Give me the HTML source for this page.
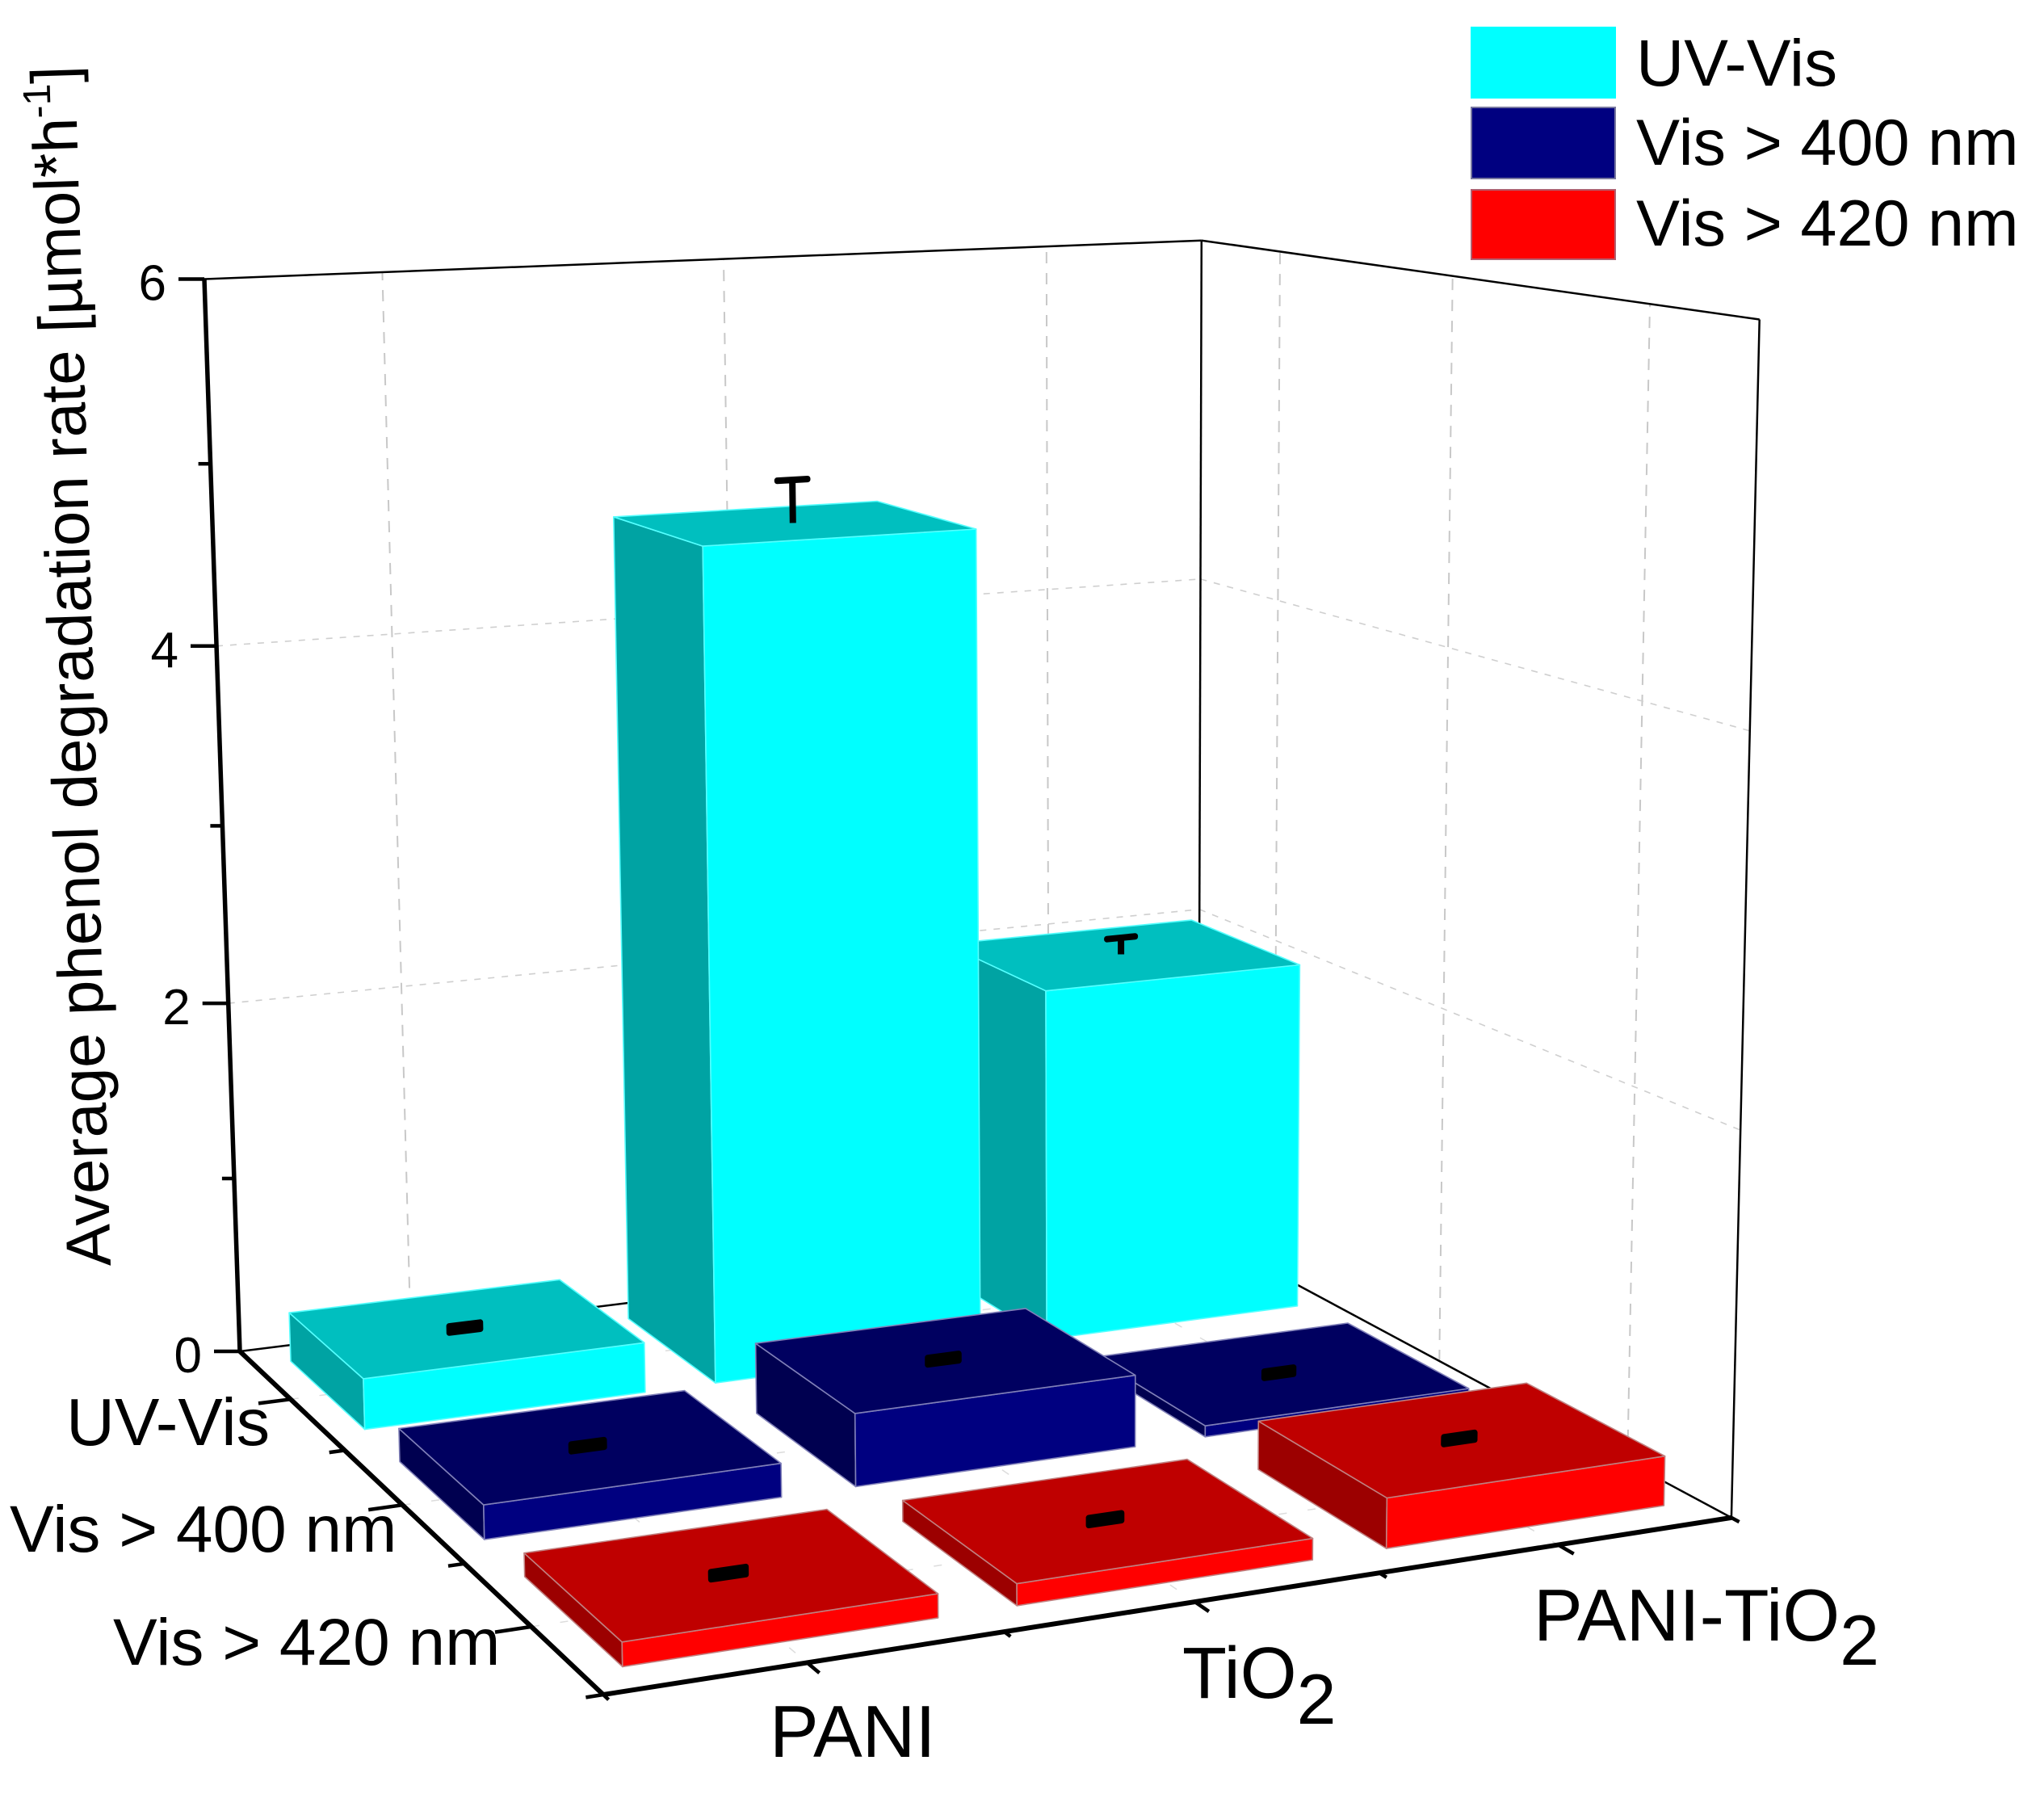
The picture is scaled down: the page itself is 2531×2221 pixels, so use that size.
<!DOCTYPE html>
<html>
<head>
<meta charset="utf-8">
<title>Average phenol degradation rate</title>
<style>
html,body{margin:0;padding:0;background:#fff;}
svg{display:block;}
text{font-family:"Liberation Sans",sans-serif;fill:#000;}
</style>
</head>
<body>
<svg id="chart" xmlns="http://www.w3.org/2000/svg" width="2531" height="2221" viewBox="0 0 2531 2221">
  <rect x="0" y="0" width="2531" height="2221" fill="#fff"/>
  <g id="grid"></g>
  <g id="frame"></g>
  <g id="bars"></g>
  <g id="axes"></g>
  <g id="ylabels"></g>

  <text transform="translate(137,1567) rotate(-91.7)" font-size="78">Average phenol degradation rate [µmol*h<tspan font-size="48" dy="-32">-1</tspan><tspan dy="32">]</tspan></text>

  <g font-size="82">
    <text x="82" y="1789" font-size="83">UV-Vis</text>
    <text x="12" y="1921">Vis &gt; 400 nm</text>
    <text x="140" y="2061">Vis &gt; 420 nm</text>
  </g>
  <g font-size="91">
    <text x="953" y="2175">PANI</text>
    <text x="1464" y="2102" font-size="90">TiO<tspan font-size="88" dy="32">2</tspan></text>
    <text x="1899" y="2031">PANI-TiO<tspan font-size="88" dy="30">2</tspan></text>
  </g>

  <g>
    <rect x="1821" y="33" width="180" height="89" fill="#00ffff"/>
    <rect x="1822" y="133" width="178" height="88" fill="#000080" stroke="#77779f" stroke-width="2"/>
    <rect x="1822" y="235" width="178" height="86" fill="#ff0000" stroke="#b06070" stroke-width="2"/>
    <text x="2026" y="106" font-size="82">UV-Vis</text>
    <text x="2026" y="204" font-size="81">Vis &gt; 400 nm</text>
    <text x="2026" y="304" font-size="81">Vis &gt; 420 nm</text>
  </g>
</svg>
<script>
// ----- chart data -----
const productCategories = ['PANI', 'TiO2', 'PANI-TiO2'];
const lightCategories = ['UV-Vis', 'Vis > 400 nm', 'Vis > 420 nm'];
const uvVisValues = [0.28, 4.62, 2.01];
const vis400Values = [0.18, 0.39, 0.06];
const vis420Values = [0.12, 0.11, 0.26];
const uvVisErrors = [0.02, 0.24, 0.10];
const vis400Errors = [0.02, 0.02, 0.02];
const vis420Errors = [0.02, 0.02, 0.02];
const yTickValues = [0, 2, 4, 6];
const yMinorTickValues = [1, 3, 5];
const yTickLabels = ['0', '2', '4', '6'];
const yMax = 6;

const svgNS = 'http://www.w3.org/2000/svg';
const rowValues = [uvVisValues, vis400Values, vis420Values];
const rowErrors = [uvVisErrors, vis400Errors, vis420Errors];
const rowNames = ['uv-vis', 'vis-400', 'vis-420'];
const productNames = ['pani', 'tio2', 'pani-tio2'];
const rowColors = [
  {front:'#00ffff', top:'#00bfbf', left:'#00a3a3', edge:'#55ffff'},
  {front:'#000080', top:'#000060', left:'#000050', edge:'#8080b8'},
  {front:'#ff0000', top:'#bf0000', left:'#9c0000', edge:'#c08080'}
];

// ----- axis functions: perspective mapping from (u, v, value) to the page -----
const G = 0.08324, H = -0.18965;
const PX = -53.9, PY = -1341, PW = -0.039;
function uPos(i) { return (i + 0.5) / productCategories.length; }
function vPos(j) { return (j + 0.5) / lightCategories.length; }
function project(u, v, value) {
  const k = value / yMax;
  const X = 1310.5 * u + 308.3 * v + 297 + PX * k;
  const Y = -21.1 * u + 27.1 * v + 1673 + PY * k;
  const W = G * u + H * v + 1 + PW * k;
  return [X / W, Y / W];
}
function pts(list) {
  return list.map(function (p) { return p[0].toFixed(1) + ',' + p[1].toFixed(1); }).join(' ');
}
function addLine(parent, a, b, stroke, width, name, dash) {
  const el = document.createElementNS(svgNS, 'line');
  
  
  el.setAttribute('x1', a[0].toFixed(1));
  el.setAttribute('y1', a[1].toFixed(1));
  el.setAttribute('x2', b[0].toFixed(1));
  el.setAttribute('y2', b[1].toFixed(1));
  el.setAttribute('stroke', stroke);
  el.setAttribute('stroke-width', width);
  if (dash) el.setAttribute('stroke-dasharray', dash);
  parent.appendChild(el);
  return el;
}
function addPoly(parent, list, fill, stroke, width, name) {
  const el = document.createElementNS(svgNS, 'polygon');
  
  
  el.setAttribute('points', pts(list));
  el.setAttribute('fill', fill);
  el.setAttribute('stroke', stroke);
  el.setAttribute('stroke-width', width);
  el.setAttribute('stroke-linejoin', 'round');
  parent.appendChild(el);
  return el;
}

// ----- gridlines -----
const gridG = document.getElementById('grid');
const gridColor = '#c8c8c8';
const gridDash = '14 12';
const fineDash = '8 9';
const floorDash = '10 26';
[0, 1, 2].forEach(function (i) {
  const u = uPos(i), v = vPos(i);
  addLine(gridG, project(u, 0, 0), project(u, 0, yMax), gridColor, 2, 'back-wall-vertical-gridline', gridDash);
  addLine(gridG, project(1, v, 0), project(1, v, yMax), gridColor, 2, 'side-wall-vertical-gridline', gridDash);
  addLine(gridG, project(u, 0, 0), project(u, 1, 0), '#dcdcdc', 1.5, 'floor-gridline-x', floorDash);
  addLine(gridG, project(0, v, 0), project(1, v, 0), '#dcdcdc', 1.5, 'floor-gridline-z', floorDash);
});
[2, 4].forEach(function (t) {
  addLine(gridG, project(0, 0, t), project(1, 0, t), '#cfcfcf', 1.6, 'back-wall-horizontal-gridline', fineDash);
  addLine(gridG, project(1, 0, t), project(1, 1, t), '#cfcfcf', 1.6, 'side-wall-horizontal-gridline', fineDash);
});

// ----- thin frame -----
const frameG = document.getElementById('frame');
addLine(frameG, project(0, 0, yMax), project(1, 0, yMax), '#000', 2.5, 'frame-top-back');
addLine(frameG, project(1, 0, yMax), project(1, 1, yMax), '#000', 2.5, 'frame-top-side');
addLine(frameG, project(1, 0, 0), project(1, 0, yMax), '#000', 2.5, 'frame-back-corner');
addLine(frameG, project(1, 1, 0), project(1, 1, yMax), '#000', 2.5, 'frame-right-corner');
addLine(frameG, project(0, 0, 0), project(1, 0, 0), '#000', 2.5, 'frame-floor-back');
addLine(frameG, project(1, 0, 0), project(1, 1, 0), '#000', 2.5, 'frame-floor-side');

// ----- bars and error bars (painter order: far row first, right to left) -----
const barsG = document.getElementById('bars');
const hu = 0.1325, hv = 0.1155, capU = 0.015;
rowValues.forEach(function (vals, j) {
  for (let i = vals.length - 1; i >= 0; i--) {
    const value = vals[i], err = rowErrors[j][i], c = rowColors[j];
    const u0 = uPos(i) - hu, u1 = uPos(i) + hu, v0 = vPos(j) - hv, v1 = vPos(j) + hv;
    const barName = 'bar-' + rowNames[j] + '-' + productNames[i];
    const g = document.createElementNS(svgNS, 'g');
    
    
    barsG.appendChild(g);
    addPoly(g, [project(u0, v0, 0), project(u0, v1, 0), project(u0, v1, value), project(u0, v0, value)], c.left, c.edge, 1.6, barName + '-left-face');
    addPoly(g, [project(u0, v1, 0), project(u1, v1, 0), project(u1, v1, value), project(u0, v1, value)], c.front, c.edge, 1.6, barName + '-front-face');
    addPoly(g, [project(u0, v0, value), project(u0, v1, value), project(u1, v1, value), project(u1, v0, value)], c.top, c.edge, 1.6, barName + '-top-face');

    const uc = uPos(i), vc = vPos(j);
    const hasStem = err >= 0.05;
    if (hasStem) {
      addLine(g, project(uc, vc, value), project(uc, vc, value + err), '#000', 8, barName + '-error-stem');
    }
    const capTop = value + err;
    const capBottom = hasStem ? value + err - 0.005 : value - err;
    addPoly(g, [project(uc - capU, vc, capBottom), project(uc + capU, vc, capBottom), project(uc + capU, vc, capTop), project(uc - capU, vc, capTop)], '#000', '#000', 7, barName + '-error-cap');
  }
});

// ----- heavy axes and ticks -----
const axesG = document.getElementById('axes');
addLine(axesG, project(0, 0, 0), project(0, 0, yMax), '#000', 5.5, 'y-axis-line');
addLine(axesG, project(0, 0, 0), project(0, 1, 0), '#000', 6, 'z-axis-line');
addLine(axesG, project(0, 1, 0), project(1, 1, 0), '#000', 6, 'x-axis-line');
yTickValues.forEach(function (t) {
  const p = project(0, 0, t);
  addLine(axesG, p, [p[0] - 32, p[1]], '#000', 4.5, 'y-major-tick');
});
yMinorTickValues.forEach(function (t) {
  const p = project(0, 0, t);
  addLine(axesG, p, [p[0] - 15, p[1]], '#000', 4.5, 'y-minor-tick');
});
[1, 2, 3, 4, 5, 6].forEach(function (n) {
  const v = n / 6, p = project(0, v, 0), major = n % 2 === 1;
  addLine(axesG, p, project(major ? -0.03 : -0.014, v, 0), '#000', 4.5, major ? 'z-major-tick' : 'z-minor-tick');
});
[0, 1, 2, 3, 4, 5, 6].forEach(function (n) {
  const u = n / 6, p = project(u, 1, 0), major = n % 2 === 1;
  addLine(axesG, p, project(u, major ? 1.025 : 1.012, 0), '#000', 4.5, major ? 'x-major-tick' : 'x-minor-tick');
});

// ----- y tick labels -----
const yLabelG = document.getElementById('ylabels');
yTickValues.forEach(function (t, k) {
  const p = project(0, 0, t);
  const el = document.createElementNS(svgNS, 'text');
  
  
  el.setAttribute('x', (p[0] - 47).toFixed(1));
  el.setAttribute('y', (p[1] + 26).toFixed(1));
  el.setAttribute('text-anchor', 'end');
  el.setAttribute('font-size', '62');
  el.textContent = yTickLabels[k];
  yLabelG.appendChild(el);
});
</script>
</body>
</html>
